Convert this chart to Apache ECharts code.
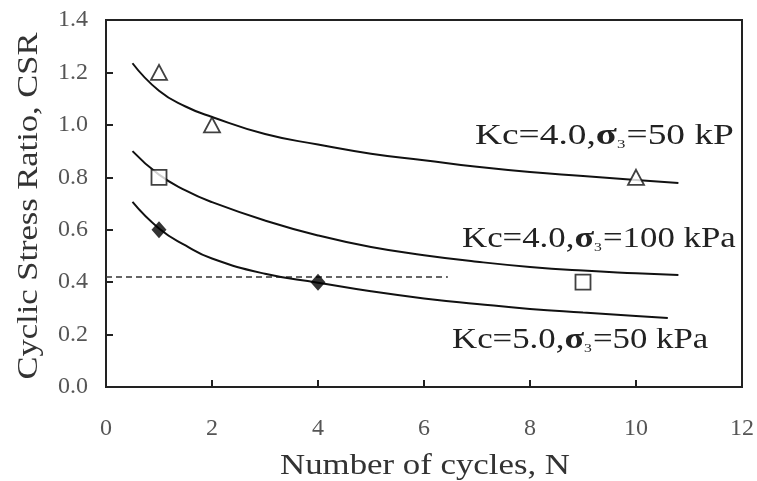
<!DOCTYPE html>
<html>
<head>
<meta charset="utf-8">
<script src="https://cdn.jsdelivr.net/npm/echarts@6/dist/echarts.min.js"></script>
<style>html,body{margin:0;padding:0;background:#fff}#c{width:757px;height:481px}</style>
</head>
<body>
<div id="c"></div>
<script>
// Measured test points
const triPts = [[1, 1.2], [2, 1.0], [10, 0.8]];
const sqPts = [[1, 0.8], [9, 0.4]];
const diaPts = [[1, 0.6], [4, 0.4]];
// Trend curves
const curve1X = [0.5, 1, 1.5, 2, 3, 4, 5, 6, 7, 8, 9, 10, 10.8];
const curve1Y = [1.235, 1.13, 1.07, 1.03, 0.965, 0.925, 0.89, 0.865, 0.84, 0.82, 0.805, 0.79, 0.778];
const curve2X = [0.5, 1, 1.5, 2, 3, 4, 5, 6, 7, 8, 9, 10, 10.8];
const curve2Y = [0.9, 0.81, 0.75, 0.705, 0.635, 0.578, 0.534, 0.503, 0.478, 0.458, 0.444, 0.434, 0.427];
const curve3X = [0.5, 1, 1.5, 2, 3, 4, 5, 6, 7, 8, 9, 10, 10.6];
const curve3Y = [0.706, 0.605, 0.54, 0.49, 0.432, 0.398, 0.365, 0.338, 0.317, 0.298, 0.284, 0.271, 0.263];
// Reference dashed line
const refLineX = [0, 6.45];
const refLineY = [0.42, 0.42];
// Axes
const xTicks = [0, 2, 4, 6, 8, 10, 12];
const yTicks = [0.0, 0.2, 0.4, 0.6, 0.8, 1.0, 1.2, 1.4];
const xTitle = 'Number of cycles, N';
const yTitle = 'Cyclic Stress Ratio, CSR';
const labels = [
  {k: '4.0', s: '50 kP'},
  {k: '4.0', s: '100 kPa'},
  {k: '5.0', s: '50 kPa'}
];

const zip = (xs, ys) => xs.map((x, i) => [x, ys[i]]);
const FONT = '"Liberation Serif", "Times New Roman", serif';

const chart = echarts.init(document.getElementById('c'), null, {renderer: 'canvas'});
const curveStyle = {color: '#111', width: 2};
const rich = {
  n: {fontFamily: FONT, fontSize: 29, color: '#222'},
  g: {fontFamily: FONT, fontSize: 30, color: '#222', fontWeight: 'bold'},
  sub: {fontFamily: FONT, fontSize: 13, color: '#555', padding: [17, 1, 0, 0]}
};
function labelText(l) {
  return '{n|Kc=' + l.k + ',}{g|σ}{sub|3}{n|=' + l.s + '}';
}
const labelPos = [[475, 136, 1.29], [462, 239, 1.2], [452, 340, 1.2]];

chart.setOption({
  animation: false,
  grid: {left: 106, right: 12, top: 20, bottom: 94, show: true, borderColor: '#222', borderWidth: 2, backgroundColor: 'transparent'},
  xAxis: {
    type: 'value', min: 0, max: 12, interval: 2,
    axisLine: {show: true, lineStyle: {color: '#222', width: 2}},
    axisTick: {show: true, inside: true, length: 7, lineStyle: {color: '#222', width: 2}},
    axisLabel: {fontFamily: FONT, fontSize: 24, color: '#555', margin: 30, formatter: v => xTicks.includes(v) ? String(v) : ''},
    splitLine: {show: false}
  },
  yAxis: {
    type: 'value', min: 0, max: 1.4, interval: 0.2,
    axisLine: {show: true, lineStyle: {color: '#222', width: 2}},
    axisTick: {show: true, inside: true, length: 7, lineStyle: {color: '#222', width: 2}},
    axisLabel: {fontFamily: FONT, fontSize: 24, color: '#555', margin: 18, formatter: v => v.toFixed(1)},
    splitLine: {show: false}
  },
  series: [
    {type: 'line', data: zip(curve1X, curve1Y), smooth: true, showSymbol: false, lineStyle: curveStyle, z: 2},
    {type: 'line', data: zip(curve2X, curve2Y), smooth: true, showSymbol: false, lineStyle: curveStyle, z: 2},
    {type: 'line', data: zip(curve3X, curve3Y), smooth: true, showSymbol: false, lineStyle: curveStyle, z: 2},
    {type: 'line', data: zip(refLineX, refLineY), showSymbol: false, lineStyle: {color: '#333', width: 1.5, type: [6, 4]}, z: 1},
    {type: 'scatter', data: triPts, symbol: 'triangle', symbolSize: [16, 15], itemStyle: {color: '#fff', borderColor: '#111', borderWidth: 1.8}, z: 3},
    {type: 'scatter', data: sqPts, symbol: 'rect', symbolSize: 15, itemStyle: {color: '#fff', borderColor: '#111', borderWidth: 1.8}, z: 3},
    {type: 'scatter', data: diaPts, symbol: 'diamond', symbolSize: [15, 17], itemStyle: {color: '#000'}, z: 3}
  ],
  graphic: labels.map((l, i) => ({
    type: 'text', x: labelPos[i][0], y: labelPos[i][1], scaleX: labelPos[i][2], z: 10,
    style: {text: labelText(l), rich: rich, fill: '#222', align: 'left', verticalAlign: 'middle'}
  })).concat([
    {type: 'text', x: 425, y: 466, scaleX: 1.16, z: 10,
     style: {text: xTitle, font: '30px ' + FONT, fill: '#333', align: 'center', verticalAlign: 'middle'}},
    {type: 'text', x: 29, y: 206, rotation: Math.PI / 2, scaleX: 1.15, z: 10,
     style: {text: yTitle, font: '30px ' + FONT, fill: '#333', align: 'center', verticalAlign: 'middle'}}
  ])
});
</script>
</body>
</html>
